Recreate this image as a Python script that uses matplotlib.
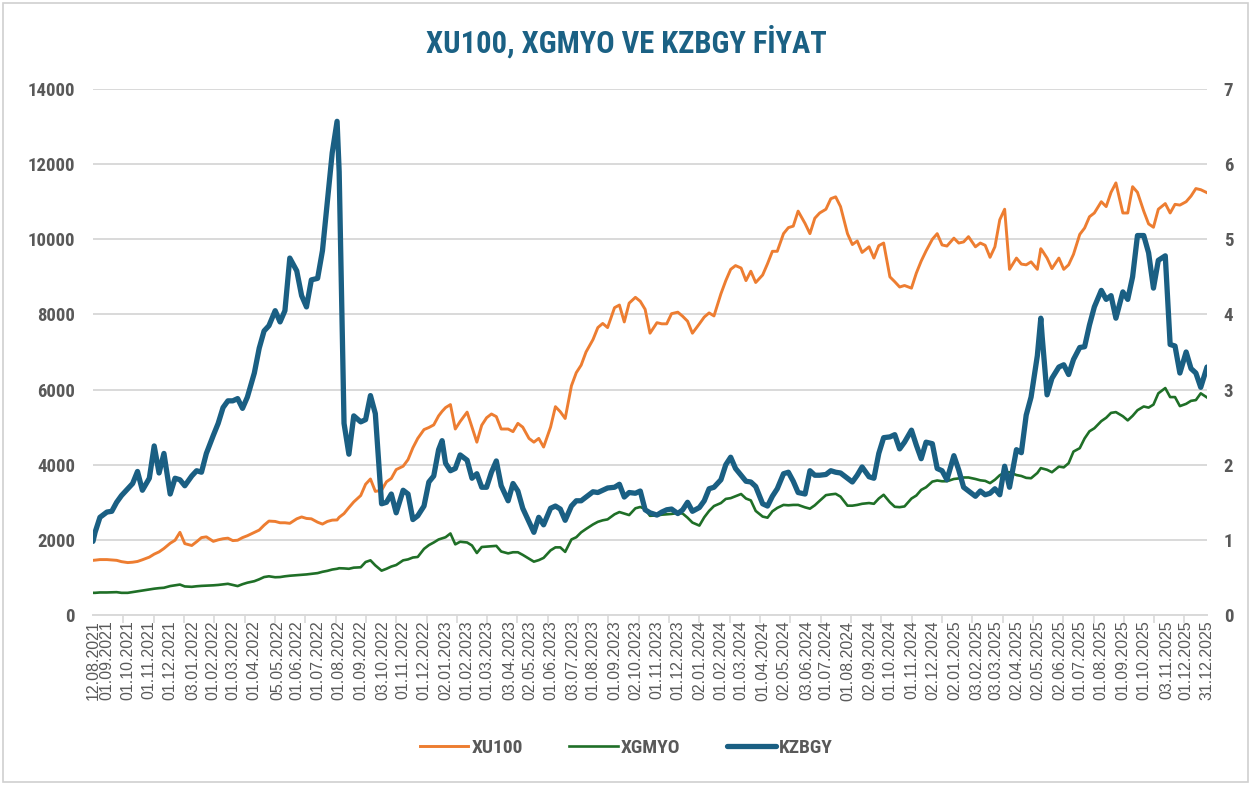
import matplotlib
matplotlib.use("Agg")
import numpy as np
import pandas as pd
import matplotlib.pyplot as plt
from matplotlib import font_manager
from matplotlib.patches import Rectangle

# sample dates
DATES = [
    "2021-08-12", "2021-08-15", "2021-08-22",
    "2021-09-01", "2021-09-08", "2021-09-15", "2021-09-22",
    "2021-10-01", "2021-10-08", "2021-10-15", "2021-10-22",
    "2021-11-01", "2021-11-08", "2021-11-15", "2021-11-22",
    "2021-12-01", "2021-12-08", "2021-12-15", "2021-12-22",
    "2022-01-01", "2022-01-08", "2022-01-15", "2022-01-22",
    "2022-02-01", "2022-02-08", "2022-02-15", "2022-02-22",
    "2022-03-01", "2022-03-08", "2022-03-15", "2022-03-22",
    "2022-04-01", "2022-04-08", "2022-04-15", "2022-04-22",
    "2022-05-01", "2022-05-08", "2022-05-15", "2022-05-22",
    "2022-06-01", "2022-06-08", "2022-06-15", "2022-06-22",
    "2022-07-01", "2022-07-08", "2022-07-15", "2022-07-22", "2022-07-29",
    "2022-08-01", "2022-08-08", "2022-08-15", "2022-08-22",
    "2022-09-01", "2022-09-08", "2022-09-15", "2022-09-22",
    "2022-10-01", "2022-10-08", "2022-10-15", "2022-10-22",
    "2022-11-01", "2022-11-08", "2022-11-15", "2022-11-22",
    "2022-12-01", "2022-12-08", "2022-12-15", "2022-12-22", "2022-12-27",
    "2023-01-01", "2023-01-08", "2023-01-15", "2023-01-22",
    "2023-02-01", "2023-02-08", "2023-02-15", "2023-02-22",
    "2023-03-01", "2023-03-08", "2023-03-15", "2023-03-22",
    "2023-04-01", "2023-04-08", "2023-04-15", "2023-04-22",
    "2023-05-01", "2023-05-08", "2023-05-15", "2023-05-22",
    "2023-06-01", "2023-06-08", "2023-06-15", "2023-06-22",
    "2023-07-01", "2023-07-08", "2023-07-15", "2023-07-22",
    "2023-08-01", "2023-08-08", "2023-08-15", "2023-08-22",
    "2023-09-01", "2023-09-08", "2023-09-15", "2023-09-22",
    "2023-10-01", "2023-10-08", "2023-10-15", "2023-10-22",
    "2023-11-01", "2023-11-08", "2023-11-15", "2023-11-22",
    "2023-12-01", "2023-12-08", "2023-12-15", "2023-12-22",
    "2024-01-01", "2024-01-08", "2024-01-15", "2024-01-22",
    "2024-02-01", "2024-02-08", "2024-02-15", "2024-02-22",
    "2024-03-01", "2024-03-08", "2024-03-15", "2024-03-22",
    "2024-04-01", "2024-04-08", "2024-04-15", "2024-04-22",
    "2024-05-01", "2024-05-08", "2024-05-15", "2024-05-22",
    "2024-06-01", "2024-06-08", "2024-06-15", "2024-06-22",
    "2024-07-01", "2024-07-08", "2024-07-15", "2024-07-22",
    "2024-08-01", "2024-08-08", "2024-08-15", "2024-08-22",
    "2024-09-01", "2024-09-08", "2024-09-15", "2024-09-22",
    "2024-10-01", "2024-10-08", "2024-10-15", "2024-10-22",
    "2024-11-01", "2024-11-08", "2024-11-15", "2024-11-22",
    "2024-12-01", "2024-12-08", "2024-12-15", "2024-12-22",
    "2025-01-01", "2025-01-08", "2025-01-15", "2025-01-22",
    "2025-02-01", "2025-02-08", "2025-02-15", "2025-02-22",
    "2025-03-01", "2025-03-08", "2025-03-15", "2025-03-22",
    "2025-04-01", "2025-04-08", "2025-04-15", "2025-04-22",
    "2025-05-01", "2025-05-06", "2025-05-08", "2025-05-15", "2025-05-22",
    "2025-06-01", "2025-06-08", "2025-06-15", "2025-06-22",
    "2025-07-01", "2025-07-08", "2025-07-15", "2025-07-22",
    "2025-08-01", "2025-08-08", "2025-08-15", "2025-08-22",
    "2025-09-01", "2025-09-08", "2025-09-15", "2025-09-22",
    "2025-10-01", "2025-10-08", "2025-10-15", "2025-10-22",
    "2025-11-01", "2025-11-08", "2025-11-15", "2025-11-22",
    "2025-12-01", "2025-12-08", "2025-12-15", "2025-12-22", "2025-12-31",
]

XU100 = [
    1455, 1460, 1475,
    1475, 1465, 1455, 1420,
    1395, 1405, 1425, 1470,
    1540, 1620, 1680, 1770,
    1910, 1990, 2200, 1900,
    1850, 1950, 2060, 2080,
    1960, 2000, 2030, 2045,
    1980, 1990, 2060, 2110,
    2200, 2260, 2390, 2500,
    2490, 2455, 2455, 2440,
    2560, 2610, 2570, 2560,
    2470, 2420, 2490, 2525, 2530,
    2600, 2700, 2860, 3010,
    3180, 3480, 3620, 3290,
    3320, 3545, 3635, 3870,
    3960, 4135, 4450, 4700,
    4935, 4990, 5060, 5300, 5420,
    5520, 5600, 4950, 5150,
    5400, 5000, 4600, 5050,
    5250, 5350, 5280, 4950,
    4950, 4880, 5100, 5000,
    4700, 4600, 4700, 4470,
    5000, 5545, 5410, 5230,
    6100, 6450, 6650, 7000,
    7330, 7650, 7760, 7650,
    8180, 8250, 7800, 8300,
    8455, 8350, 8135, 7500,
    7780, 7750, 7750, 8020,
    8060, 7950, 7820, 7500,
    7750, 7930, 8040, 7960,
    8550, 8900, 9200, 9300,
    9235, 8900, 9150, 8850,
    9050, 9350, 9680, 9680,
    10150, 10310, 10350, 10750,
    10420, 10150, 10560, 10700,
    10800, 11080, 11130, 10870,
    10150, 9860, 9955, 9650,
    9800, 9500, 9830, 9900,
    9000, 8870, 8730, 8770,
    8700, 9100, 9420, 9690,
    10000, 10150, 9850, 9820,
    10030, 9900, 9930, 10070,
    9800, 9900, 9840, 9520,
    9800, 10520, 10800, 9200,
    9500, 9340, 9320, 9400,
    9200, 9750, 9700, 9500, 9220,
    9500, 9200, 9320, 9600,
    10130, 10300, 10600, 10700,
    11000, 10870, 11250, 11500,
    10700, 10700, 11400, 11250,
    10750, 10410, 10320, 10800,
    10950, 10700, 10930, 10910,
    11000, 11150, 11350, 11320, 11240,
]

XGMYO = [
    590, 590, 600,
    600, 605, 608, 590,
    590, 610, 630, 650,
    680, 700, 715, 725,
    770, 790, 810, 760,
    750, 765, 775, 780,
    790, 800, 815, 830,
    800, 770, 820, 860,
    900, 950, 1010, 1030,
    1005, 1010, 1030, 1045,
    1060, 1070, 1080, 1095,
    1115, 1150, 1175, 1210, 1230,
    1245, 1240, 1230, 1260,
    1270, 1410, 1455, 1320,
    1180, 1230, 1290, 1330,
    1455, 1480, 1530, 1545,
    1760, 1860, 1930, 2010, 2040,
    2070, 2170, 1880, 1950,
    1930, 1850, 1650, 1810,
    1820, 1830, 1840, 1690,
    1640, 1670, 1670, 1600,
    1500, 1420, 1460, 1520,
    1720, 1800, 1800, 1680,
    2010, 2070, 2200, 2290,
    2410, 2480, 2520, 2545,
    2680, 2740, 2700, 2660,
    2840, 2875, 2820, 2640,
    2650, 2670, 2680, 2690,
    2715, 2700, 2590, 2460,
    2380, 2600, 2770, 2900,
    2980, 3090, 3110, 3160,
    3220, 3100, 3050, 2770,
    2620, 2590, 2760, 2850,
    2930, 2920, 2930, 2930,
    2865, 2830, 2920, 3040,
    3190, 3210, 3225, 3150,
    2910, 2910, 2930, 2960,
    2980, 2960, 3100, 3200,
    3000, 2880, 2870, 2890,
    3100, 3180, 3330, 3400,
    3550, 3580, 3560, 3560,
    3620, 3635, 3660, 3660,
    3620, 3585, 3570, 3510,
    3600, 3720, 3790, 3800,
    3725, 3700, 3650, 3640,
    3780, 3910, 3900, 3865, 3800,
    3950, 3930, 4040, 4350,
    4440, 4700, 4890, 4970,
    5160, 5250, 5380, 5400,
    5290, 5180, 5300, 5450,
    5550, 5520, 5600, 5900,
    6040, 5800, 5800, 5560,
    5620, 5700, 5720, 5900, 5790,
]

KZBGY = [
    0.98, 1.10, 1.30,
    1.37, 1.38, 1.50, 1.59,
    1.68, 1.75, 1.91, 1.66,
    1.82, 2.25, 1.89, 2.15,
    1.61, 1.82, 1.80, 1.72,
    1.85, 1.92, 1.90, 2.15,
    2.39, 2.55, 2.76, 2.85,
    2.85, 2.88, 2.75, 2.90,
    3.22, 3.55, 3.78, 3.85,
    4.05, 3.90, 4.05, 4.75,
    4.58, 4.25, 4.10, 4.46,
    4.48, 4.85, 5.50, 6.15, 6.57,
    5.90, 2.55, 2.14, 2.65,
    2.57, 2.60, 2.92, 2.68,
    1.48, 1.50, 1.61, 1.36,
    1.66, 1.61, 1.27, 1.32,
    1.45, 1.77, 1.85, 2.20, 2.32,
    2.02, 1.92, 1.95, 2.13,
    2.06, 1.82, 1.88, 1.70,
    1.70, 1.90, 2.05, 1.72,
    1.52, 1.75, 1.65, 1.42,
    1.24, 1.10, 1.30, 1.20,
    1.42, 1.45, 1.41, 1.26,
    1.45, 1.52, 1.52, 1.57,
    1.64, 1.63, 1.66, 1.69,
    1.70, 1.74, 1.57, 1.63,
    1.62, 1.65, 1.40, 1.36,
    1.33, 1.37, 1.40, 1.41,
    1.35, 1.40, 1.50, 1.38,
    1.43, 1.52, 1.68, 1.70,
    1.80, 2.00, 2.10, 1.95,
    1.86, 1.78, 1.77, 1.71,
    1.48, 1.45, 1.58, 1.68,
    1.88, 1.90, 1.78, 1.63,
    1.61, 1.92, 1.86, 1.86,
    1.87, 1.92, 1.90, 1.89,
    1.82, 1.77, 1.86, 1.97,
    1.84, 1.82, 2.15, 2.36,
    2.37, 2.40, 2.21, 2.30,
    2.46, 2.26, 2.08, 2.30,
    2.28, 1.95, 1.92, 1.80,
    2.12, 1.93, 1.70, 1.65,
    1.58, 1.65, 1.60, 1.62,
    1.68, 1.60, 1.98, 1.70,
    2.20, 2.16, 2.66, 2.90,
    3.45, 3.95, 3.70, 2.93, 3.15,
    3.30, 3.33, 3.20, 3.40,
    3.56, 3.57, 3.86, 4.10,
    4.32, 4.20, 4.25, 3.95,
    4.30, 4.20, 4.50, 5.05,
    5.05, 4.82, 4.35, 4.72,
    4.78, 3.60, 3.58, 3.22,
    3.50, 3.28, 3.22, 3.03, 3.30,
]

TICK_LABELS = [
    "12.08.2021", "01.09.2021", "01.10.2021", "01.11.2021", "01.12.2021",
    "03.01.2022", "01.02.2022", "01.03.2022", "01.04.2022", "05.05.2022",
    "01.06.2022", "01.07.2022", "01.08.2022", "01.09.2022", "03.10.2022",
    "01.11.2022", "01.12.2022", "02.01.2023", "01.02.2023", "01.03.2023",
    "03.04.2023", "02.05.2023", "01.06.2023", "03.07.2023", "01.08.2023",
    "01.09.2023", "02.10.2023", "01.11.2023", "01.12.2023", "02.01.2024",
    "01.02.2024", "01.03.2024", "01.04.2024", "02.05.2024", "03.06.2024",
    "01.07.2024", "01.08.2024", "02.09.2024", "01.10.2024", "01.11.2024",
    "02.12.2024", "02.01.2025", "03.02.2025", "03.03.2025", "02.04.2025",
    "02.05.2025", "02.06.2025", "01.07.2025", "01.08.2025", "01.09.2025",
    "01.10.2025", "03.11.2025", "01.12.2025", "31.12.2025",
]

SERIES_NAMES = ["XU100", "XGMYO", "KZBGY"]
COLORS = ["#ED7D31", "#1F6F27", "#1A5F83"]


def pick_font(*names):
    for name in names:
        try:
            font_manager.findfont(font_manager.FontProperties(family=name),
                                  fallback_to_default=False)
            return name
        except ValueError:
            continue
    return "DejaVu Sans"


NARROW = pick_font("Liberation Sans Narrow", "Roboto Condensed", "Liberation Sans")
PLAIN = pick_font("Liberation Sans", "Arial", "DejaVu Sans")
GREY = "#595959"

dates = pd.to_datetime(DATES)
tick_dates = pd.to_datetime(TICK_LABELS, format="%d.%m.%Y")

W, H = 1252, 785
fig = plt.figure(figsize=(W / 100, H / 100), dpi=100)
ax = fig.add_axes([93 / W, 1 - 615 / H, (1207 - 93) / W, (615 - 89) / H])
ax2 = ax.twinx()

l1, = ax.plot(dates, XU100, color=COLORS[0], lw=2.1, solid_joinstyle="round")
l2, = ax.plot(dates, XGMYO, color=COLORS[1], lw=1.9, solid_joinstyle="round")
l3, = ax2.plot(dates, KZBGY, color=COLORS[2], lw=3.8, solid_joinstyle="round",
               solid_capstyle="round")

ax.set_xlim(tick_dates[0], tick_dates[-1])
ax.set_ylim(0, 14000)
ax2.set_ylim(0, 7)
ax.set_yticks(np.arange(0, 14001, 2000))
ax2.set_yticks(np.arange(0, 8, 1))

ax.yaxis.grid(True, color="#D9D9D9", lw=1.4)
ax.set_axisbelow(True)

for a in (ax, ax2):
    for s in a.spines.values():
        s.set_visible(False)
ax.spines["bottom"].set_visible(True)
ax.spines["bottom"].set_color("#D9D9D9")
ax.spines["bottom"].set_linewidth(1.4)

ax.tick_params(axis="y", length=0, pad=13, labelsize=13.5, labelcolor=GREY)
ax2.tick_params(axis="y", length=0, pad=12, labelsize=13.5, labelcolor=GREY)
for lab in ax.get_yticklabels() + ax2.get_yticklabels():
    lab.set_fontweight("bold")
    lab.set_fontfamily(NARROW)

# category labels plus evenly spaced tick marks like the spreadsheet axis
ax.set_xticks(tick_dates)
ax.set_xticklabels(TICK_LABELS, rotation=90, fontsize=11.5, color=GREY,
                   fontfamily=PLAIN)
ax.tick_params(axis="x", which="major", length=0, pad=4)
x0, x1 = ax.get_xlim()
ax.set_xticks(np.arange(x0, x1 + 1, 43.6), minor=True)
ax.tick_params(axis="x", which="minor", length=6, width=1.2, color="#D9D9D9")

fig.text(0.5, 1 - 42 / H, "XU100, XGMYO VE KZBGY FİYAT", ha="center", va="center",
         fontsize=22, fontweight="bold", color="#1B6184", fontfamily=NARROW)

leg = fig.legend([l1, l2, l3], SERIES_NAMES, loc="center",
                 bbox_to_anchor=(0.5, 1 - 748 / H), ncol=3, frameon=False,
                 handlelength=2.5, columnspacing=2.4, handletextpad=0.15,
                 prop={"family": NARROW, "weight": "bold", "size": 14})
for t in leg.get_texts():
    t.set_color(GREY)

fig.add_artist(Rectangle((0.002, 0.004), 0.995, 0.992, transform=fig.transFigure,
                         fill=False, edgecolor="#D0D0D0", lw=1.2))

fig.savefig("out.png", dpi=100)
